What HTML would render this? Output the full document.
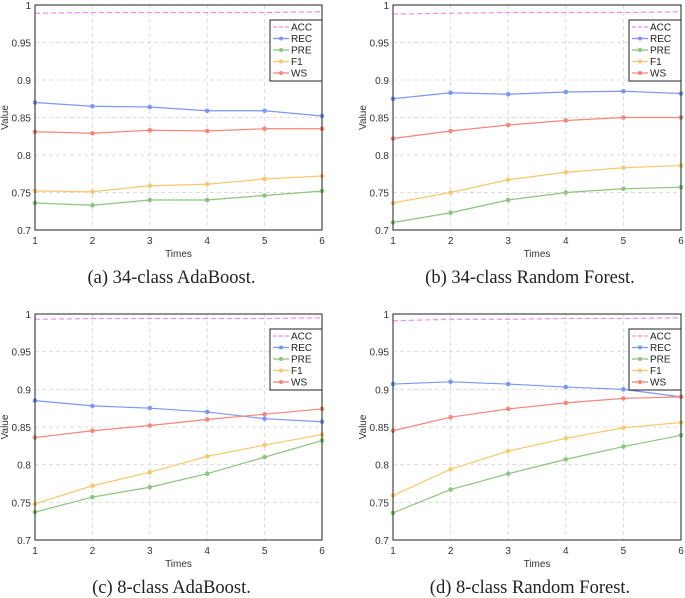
<!DOCTYPE html>
<html><head><meta charset="utf-8"><style>
body{margin:0;background:#fff;width:685px;height:598px;overflow:hidden}
svg{display:block}
text{font-family:"Liberation Sans",sans-serif}
.cap{font-family:"Liberation Serif",serif;font-size:18.5px}
</style></head><body>
<svg id="s" width="685" height="598"></svg>
<script>
const xCats=[1,2,3,4,5,6];
const yTicks=[0.7,0.75,0.8,0.85,0.9,0.95,1];
const yTickLabels=["0.7","0.75","0.8","0.85","0.9","0.95","1"];
const seriesNames=["ACC","REC","PRE","F1","WS"];
const captions=["(a) 34-class AdaBoost.","(b) 34-class Random Forest.","(c) 8-class AdaBoost.","(d) 8-class Random Forest."];
const aACC=[.989,.990,.990,.990,.990,.991],aREC=[.870,.865,.864,.859,.859,.852],aPRE=[.736,.733,.740,.740,.746,.752],aF1=[.752,.751,.759,.761,.768,.772],aWS=[.831,.829,.833,.832,.835,.835];
const bACC=[.988,.989,.990,.990,.990,.991],bREC=[.875,.883,.881,.884,.885,.882],bPRE=[.710,.723,.740,.750,.755,.757],bF1=[.736,.750,.767,.777,.783,.786],bWS=[.822,.832,.840,.846,.850,.850];
const cACC=[.993,.994,.994,.994,.994,.995],cREC=[.885,.878,.875,.870,.861,.857],cPRE=[.737,.757,.770,.788,.810,.832],cF1=[.748,.772,.790,.811,.826,.840],cWS=[.836,.845,.852,.860,.867,.874];
const dACC=[.991,.993,.993,.994,.994,.995],dREC=[.907,.910,.907,.903,.900,.890],dPRE=[.736,.767,.788,.807,.824,.839],dF1=[.759,.794,.818,.835,.849,.856],dWS=[.845,.863,.874,.882,.888,.890];
const panelData=[[aACC,aREC,aPRE,aF1,aWS],[bACC,bREC,bPRE,bF1,bWS],[cACC,cREC,cPRE,cF1,cWS],[dACC,dREC,dPRE,dF1,dWS]];
const colors=["#f38af3","#7b97f8","#8cc57d","#f9c86e","#f4867a"];
const NS="http://www.w3.org/2000/svg";
const svg=document.getElementById('s');
function mk(t,a,p){const e=document.createElementNS(NS,t);for(const k in a)e.setAttribute(k,a[k]);(p||svg).appendChild(e);return e;}
const boxes=[[35,5,322,230],[393,5,681,230],[35,314,322,540],[393,314,681,540]];
const tags=["a","b","c","d"];
boxes.forEach((b,pi)=>{
  const [x0,y0,x1,y1]=b;
  const g=mk('g',{});
  
  
  const X=v=>x0+(v-1)/5*(x1-x0);
  const Y=v=>y1-(v-0.7)/0.3*(y1-y0);
  xCats.forEach(c=>{
    if(c>1&&c<6)mk('line',{x1:X(c),x2:X(c),y1:y0,y2:y1,stroke:'#ddd','stroke-dasharray':'4,3'},g);
    const t=mk('text',{x:X(c),y:y1+14,'font-size':10,'text-anchor':'middle',fill:'#333'},g);t.textContent=c;
    
  });
  yTicks.forEach((v,i)=>{
    if(i>0&&i<6)mk('line',{x1:x0,x2:x1,y1:Y(v),y2:Y(v),stroke:'#ddd','stroke-dasharray':'4,3'},g);
    const t=mk('text',{x:x0-4,y:Y(v)+4,'font-size':10,'text-anchor':'end',fill:'#333'},g);t.textContent=yTickLabels[i];
    
  });
  const xt=mk('text',{x:(x0+x1)/2,y:y1+27,'font-size':10,'text-anchor':'middle',fill:'#333'},g);xt.textContent='Times';
  
  const yt=mk('text',{x:0,y:0,'font-size':10,'text-anchor':'middle',fill:'#333',transform:`translate(${x0-27},${(y0+y1)/2}) rotate(-90)`},g);yt.textContent='Value';
  
  panelData[pi].forEach((arr,si)=>{
    const pts=arr.map((v,i)=>X(xCats[i])+','+Y(v)).join(' ');
    const pl=mk('polyline',{points:pts,fill:'none',stroke:colors[si],'stroke-width':1.2,'stroke-dasharray':si==0?'5,3':'none'},g);
    
    if(si>0)arr.forEach((v,i)=>{const m=mk('circle',{cx:X(xCats[i]),cy:Y(v),r:1.8,fill:colors[si],stroke:colors[si]},g);
      });
  });
  const fr=mk('rect',{x:x0,y:y0,width:x1-x0,height:y1-y0,fill:'none',stroke:'#222','stroke-width':1},g);
  
  const lx=x1-52,ly=y0+15;
  const lg=mk('g',{},g);
  mk('rect',{x:lx,y:ly,width:52,height:61,fill:'#fff',stroke:'#222'},lg);
  seriesNames.forEach((n,si)=>{
    const yy=ly+7+si*11.5;
    mk('line',{x1:lx+3,x2:lx+19,y1:yy,y2:yy,stroke:colors[si],'stroke-width':1.3,'stroke-dasharray':si==0?'4,2':'none'},lg);
    if(si>0)mk('circle',{cx:lx+11,cy:yy,r:2,fill:colors[si]},lg);
    const t=mk('text',{x:lx+21,y:yy+3.5,'font-size':10,fill:'#222'},lg);t.textContent=n;
    
  });
  const c=mk('text',{x:(x0+x1)/2-7,y:y1+53,'text-anchor':'middle',class:'cap',fill:'#222'},g);c.textContent=captions[pi];
  
});
</script>
</body></html>
